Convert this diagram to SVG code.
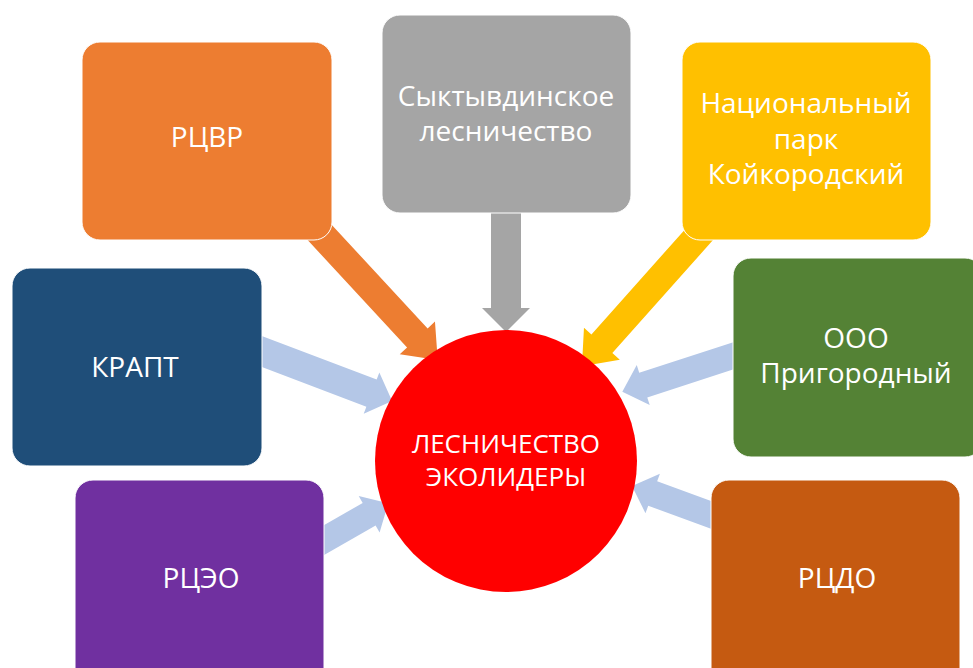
<svg xmlns="http://www.w3.org/2000/svg" width="973" height="668" viewBox="0 0 973 668">
<style>
.t{font-family:"Open Sans","Noto Sans","DejaVu Sans",sans-serif;font-size:28px;fill:#fff;text-anchor:middle}
.c{font-size:26px}
.box{stroke:#fff;stroke-width:1}
.lb{fill:#B4C7E7}
</style>
<rect width="973" height="668" fill="#fff"/>
<g id="connectors">
<polygon fill="#ED7D31" transform="translate(310,222) rotate(47.2)" points="0,-14 158,-14 158,-24 188,0 158,24 158,14 0,14"/>
<polygon fill="#A5A5A5" transform="translate(506,205) rotate(90)" points="0,-15 103,-15 103,-24 127,0 103,24 103,15 0,15"/>
<polygon fill="#FFC000" transform="translate(705,228) rotate(131.7)" points="0,-14 155,-14 155,-24 185,0 155,24 155,14 0,14"/>
<polygon class="lb" transform="translate(250,347) rotate(20.8)" points="0,-14.5 130,-14.5 130,-22 152,0 130,22 130,14.5 0,14.5"/>
<polygon class="lb" transform="translate(298,555) rotate(-29.8)" points="0,-13 82,-13 82,-21 104,0 82,21 82,13 0,13"/>
<polygon class="lb" transform="translate(745,352) rotate(162)" points="0,-13 107,-13 107,-21 129,0 107,21 107,13 0,13"/>
<polygon class="lb" transform="translate(725,520) rotate(200.1)" points="0,-13 77,-13 77,-21 99,0 77,21 77,13 0,13"/>
</g>
<g id="rcvr"><rect class="box" x="82" y="42" width="250" height="198" rx="18" fill="#ED7D31"/><text class="t" x="207" y="147">РЦВР</text></g>
<g id="syktyvdinskoe"><rect class="box" x="382" y="15" width="249" height="198" rx="18" fill="#A5A5A5"/><text class="t" x="506" y="106">Сыктывдинское</text><text class="t" x="506" y="141">лесничество</text></g>
<g id="nacpark"><rect class="box" x="682" y="42" width="249" height="198" rx="18" fill="#FFC000"/><text class="t" x="806" y="113">Национальный</text><text class="t" x="806" y="149">парк</text><text class="t" x="806" y="184">Койкородский</text></g>
<g id="krapt"><rect class="box" x="12" y="268" width="250" height="198" rx="18" fill="#1F4E79"/><text class="t" x="135" y="377">КРАПТ</text></g>
<g id="ooo"><rect class="box" x="733" y="258" width="250" height="199" rx="18" fill="#548235"/><text class="t" x="856" y="348">ООО</text><text class="t" x="856" y="383">Пригородный</text></g>
<g id="rceo"><rect class="box" x="75" y="480" width="249" height="210" rx="18" fill="#7030A0"/><text class="t" x="201" y="588">РЦЭО</text></g>
<g id="rcdo"><rect class="box" x="711" y="480" width="249" height="210" rx="18" fill="#C55A11"/><text class="t" x="837" y="588">РЦДО</text></g>
<g id="center"><circle cx="506" cy="461" r="131" fill="#FF0000"/><text class="t c" x="506" y="453">ЛЕСНИЧЕСТВО</text><text class="t c" x="506" y="486">ЭКОЛИДЕРЫ</text></g>
</svg>
